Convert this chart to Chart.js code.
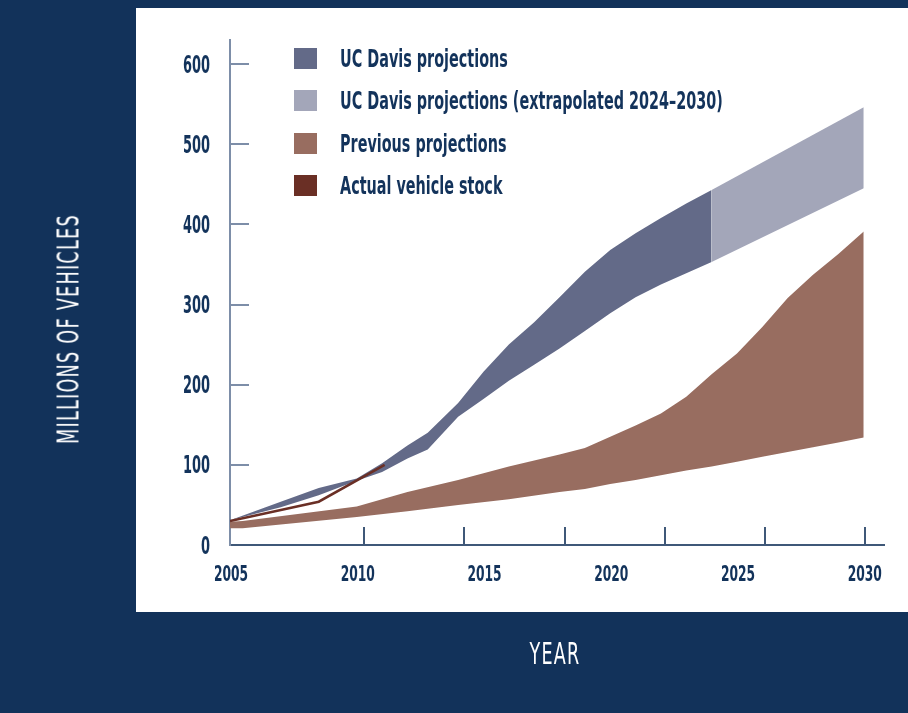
<!DOCTYPE html>
<html>
<head>
<meta charset="utf-8">
<script src="https://cdn.jsdelivr.net/npm/chart.js@4.4.1/dist/chart.umd.min.js"></script>
<style>
  html, body { margin: 0; padding: 0; }
  body {
    width: 908px; height: 713px; position: relative; overflow: hidden;
    background: #12325a;
    font-family: "DejaVu Sans Condensed", "Liberation Sans Narrow", sans-serif;
  }
  #panel { position: absolute; left: 136px; top: 8px; width: 772px; height: 604px; background: #fff; }
  #wrap { position: absolute; left: 0; top: 0; width: 908px; height: 713px; }
  #legend { position: absolute; left: 294px; top: 37px; margin: 0; padding: 0; list-style: none; }
  #legend li { display: flex; align-items: center; height: 42.5px; color: #13335b; font-size: 25px; font-weight: bold; white-space: nowrap; }
  #legend .box { width: 23px; height: 21px; margin-right: 23px; flex: none; }
  #legend .txt { display: inline-block; transform: scaleX(0.64); transform-origin: left center; }
  .title { position: absolute; color: #fff; font-size: 30px; letter-spacing: 2px; white-space: nowrap; }
  #ytitle { left: 68px; top: 329px; transform: translate(-50%, -50%) rotate(-90deg) scaleX(0.65); }
  #xtitle { left: 555px; top: 653px; transform: translate(-50%, -50%) scaleX(0.65); }
</style>
</head>
<body>
<div id="panel"></div>
<div id="wrap"><canvas id="chart" width="908" height="713"></canvas></div>
<ul id="legend"></ul>
<div class="title" id="ytitle">MILLIONS OF VEHICLES</div>
<div class="title" id="xtitle">YEAR</div>
<script>
// UC Davis projections (band, millions of vehicles)
const ucYears = [2005, 2007, 2008.5, 2010, 2011, 2012, 2012.8, 2014, 2015, 2016, 2017, 2018, 2019, 2020, 2021, 2022, 2023, 2024];
const ucLow   = [31, 47, 62, 80, 91, 108, 119, 160, 182, 205, 225, 245, 267, 289, 309, 325, 339, 353];
const ucHigh  = [31, 54, 71, 83, 102, 124, 140, 177, 216, 250, 278, 309, 341, 368, 389, 408, 426, 443];

// UC Davis projections, extrapolated 2024-2030
const extYears = [2024, 2030];
const extLow   = [353, 445];
const extHigh  = [443, 546];

// Previous projections (band)
const prevYears = [2005, 2005.5, 2010, 2012, 2014, 2016, 2018, 2019, 2020, 2021, 2022, 2023, 2024, 2025, 2026, 2027, 2028, 2029, 2030];
const prevLow   = [21, 21, 35, 42, 50, 57, 66, 70, 76, 81, 87, 93, 98, 104, 110, 116, 122, 128, 134];
const prevHigh  = [29, 30, 48, 66, 81, 98, 113, 121, 135, 149, 164, 185, 213, 239, 272, 308, 337, 363, 391];

// Actual vehicle stock
const actualYears = [2005, 2008.5, 2011.1];
const actualStock = [30, 54, 100];

const xTickLabels = [2005, 2010, 2015, 2020, 2025, 2030];
const yTickLabels = [0, 100, 200, 300, 400, 500, 600];
// small tick marks on the year axis (not aligned with the labels in the original)
const xTickMarks = [2010.3, 2014.25, 2018.2, 2022.15, 2026.1, 2030.05];

const legendLabels = [
  "UC Davis projections",
  "UC Davis projections (extrapolated 2024\u20132030)",
  "Previous projections",
  "Actual vehicle stock",
];
const legendColors = ["#636a88", "#a3a6b9", "#986d60", "#6a2f25"];

const textColor = "#13335b";
const xAxisColor = "#3f5878";
const yAxisColor = "#7d8ea8";
const fontFamily = '"DejaVu Sans Condensed", "Liberation Sans Narrow", sans-serif';

function pts(xs, ys) {
  return xs.map((x, i) => ({ x: x, y: ys[i] }));
}

function edge(label, xs, ys, fill, color) {
  return {
    label: label,
    data: pts(xs, ys),
    borderWidth: 0,
    borderColor: "transparent",
    backgroundColor: color || "transparent",
    pointRadius: 0,
    tension: 0,
    fill: fill,
  };
}

// narrow text like the original's condensed face
function condensedText(ctx, text, x, y, align, sx) {
  ctx.save();
  ctx.translate(x, y);
  ctx.scale(sx, 1);
  ctx.textAlign = align;
  ctx.fillText(text, 0, 0);
  ctx.restore();
}

// short inward tick marks and tick labels, drawn through the scales
const axisDecor = {
  id: "axisDecor",
  afterDatasetsDraw(chart) {
    const { ctx, chartArea: a, scales } = chart;
    ctx.save();
    ctx.lineWidth = 2;
    ctx.strokeStyle = xAxisColor;
    xTickMarks.forEach((v) => {
      const px = Math.round(scales.x.getPixelForValue(v));
      ctx.beginPath();
      ctx.moveTo(px, a.bottom);
      ctx.lineTo(px, a.bottom - 18);
      ctx.stroke();
    });
    ctx.strokeStyle = yAxisColor;
    yTickLabels.forEach((v) => {
      if (v === 0) return;
      const py = Math.round(scales.y.getPixelForValue(v));
      ctx.beginPath();
      ctx.moveTo(a.left, py);
      ctx.lineTo(a.left + 19, py);
      ctx.stroke();
    });

    ctx.fillStyle = textColor;
    ctx.textBaseline = "alphabetic";
    ctx.font = "bold 21px " + fontFamily;
    scales.x.ticks.forEach((t) => {
      condensedText(ctx, String(t.value), scales.x.getPixelForValue(t.value) + 1, a.bottom + 36, "center", 0.65);
    });
    ctx.font = "bold 24px " + fontFamily;
    scales.y.ticks.forEach((t) => {
      condensedText(ctx, String(t.value), a.left - 20, scales.y.getPixelForValue(t.value) + 8.5, "right", 0.6);
    });
    ctx.restore();
  },
};

const ctx = document.getElementById("chart").getContext("2d");
new Chart(ctx, {
  type: "line",
  data: {
    datasets: [
      {
        label: legendLabels[3],
        data: pts(actualYears, actualStock),
        borderColor: legendColors[3],
        borderWidth: 2.5,
        pointRadius: 0,
        tension: 0,
        fill: false,
      },
      edge("UC Davis low", ucYears, ucLow, false),
      edge(legendLabels[0], ucYears, ucHigh, "-1", legendColors[0]),
      edge("Extrapolated low", extYears, extLow, false),
      edge(legendLabels[1], extYears, extHigh, "-1", legendColors[1]),
      edge("Previous low", prevYears, prevLow, false),
      edge(legendLabels[2], prevYears, prevHigh, "-1", legendColors[2]),
    ],
  },
  options: {
    responsive: false,
    animation: false,
    events: [],
    layout: { padding: { left: 0, top: 40, right: 24, bottom: 0 } },
    plugins: {
      legend: { display: false },
      tooltip: { enabled: false },
    },
    scales: {
      x: {
        type: "linear",
        min: 2005,
        max: 2030.8,
        afterBuildTicks: (s) => { s.ticks = xTickLabels.map((v) => ({ value: v })); },
        afterFit: (s) => { s.height = 168; },
        grid: { display: false },
        border: { display: true, color: xAxisColor, width: 2 },
        ticks: { display: false },
      },
      y: {
        min: 0,
        max: 630,
        afterBuildTicks: (s) => { s.ticks = yTickLabels.map((v) => ({ value: v })); },
        afterFit: (s) => { s.width = 230; },
        grid: { display: false },
        border: { display: true, color: yAxisColor, width: 2 },
        ticks: { display: false },
      },
    },
  },
  plugins: [axisDecor],
});

// legend
const legendEl = document.getElementById("legend");
legendLabels.forEach((label, i) => {
  const li = document.createElement("li");
  const box = document.createElement("span");
  box.className = "box";
  box.style.background = legendColors[i];
  const txt = document.createElement("span");
  txt.className = "txt";
  txt.textContent = label;
  li.appendChild(box);
  li.appendChild(txt);
  legendEl.appendChild(li);
});
</script>
</body>
</html>
